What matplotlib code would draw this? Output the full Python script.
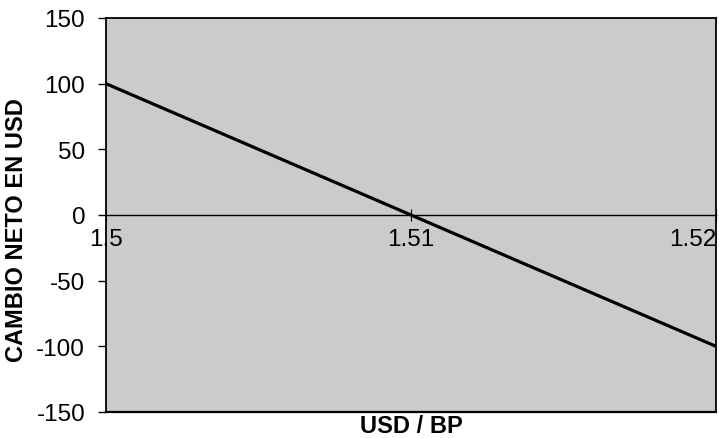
import numpy as np
import matplotlib.pyplot as plt

# tipo de cambio USD / BP y cambio neto en USD
tipo_cambio = [1.50, 1.51, 1.52]
cambio_neto = [100, 0, -100]

x_ticks = [1.50, 1.51, 1.52]
x_labels = ["1.5", "1.51", "1.52"]
y_ticks = [-150, -100, -50, 0, 50, 100, 150]

plt.rcParams['font.family'] = ['Liberation Sans', 'DejaVu Sans']

fig = plt.figure(figsize=(7.19, 4.39), dpi=100)
ax = fig.add_axes([106 / 719, 1 - 413 / 439, 610 / 719, 394 / 439])
ax.set_facecolor('#cbcbcb')

ax.plot(tipo_cambio, cambio_neto, color='black', lw=2.3, solid_capstyle='butt')

ax.set_xlim(1.50, 1.52)
ax.set_ylim(-150, 150)
ax.set_yticks(y_ticks)
ax.set_yticklabels([str(v) for v in y_ticks], fontsize=17.5)
ax.tick_params(axis='y', direction='out', length=6, width=1, pad=9)

# eje horizontal en cero, etiquetas debajo
ax.spines['bottom'].set_position(('data', 0))
ax.spines['bottom'].set_linewidth(1.0)
for s in ['left', 'right', 'top']:
    ax.spines[s].set_linewidth(1.3)
ax.axhline(-150, color='black', lw=1.6, clip_on=False)

ax.set_xticks(x_ticks)
ax.set_xticklabels(x_labels, fontsize=17.5)
ax.tick_params(axis='x', direction='inout', length=9, width=0.8, pad=5)
lbls = ax.get_xticklabels()
lbls[-1].set_horizontalalignment('right')

ax.set_ylabel("CAMBIO NETO EN USD", fontsize=17, fontweight='bold')
ax.yaxis.set_label_coords(-0.128, 0.464)
ax.text(0.5, -0.005, "USD / BP", transform=ax.transAxes, ha='center', va='top',
        fontsize=17, fontweight='bold')

fig.savefig("out.png", dpi=100)
